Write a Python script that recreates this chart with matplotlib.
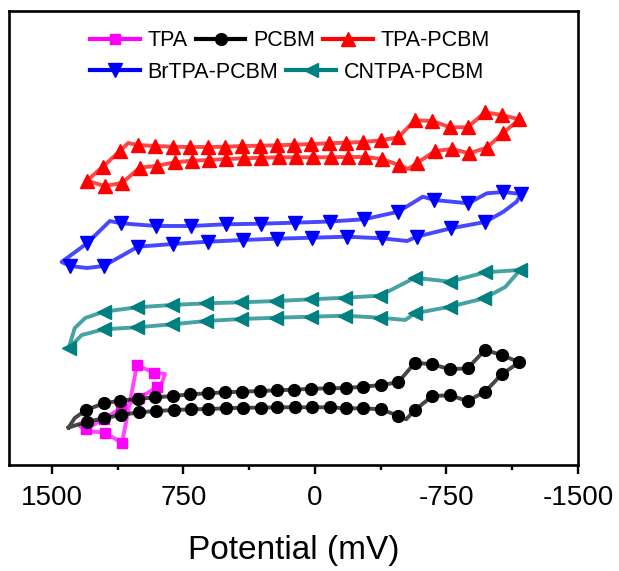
import matplotlib
matplotlib.use("Agg")
import matplotlib.pyplot as plt
from matplotlib.lines import Line2D

plt.rcParams['font.family'] = ['Liberation Sans', 'DejaVu Sans']

# cyclic voltammograms: potential (mV), current (a.u.)
# each list traces one closed loop; *_skip are points that carry no marker
tpa_E = [1015, 920, 855, 875, 900, 1005, 1105, 1205, 1305, 1340, 1300, 1200, 1100, 1015]
tpa_I = [10.0, 9.23, 9.1, 8.1, 7.77, 6.7, 5.65, 4.65, 3.57, 3.9, 3.4, 3.23, 2.23, 10.0]
tpa_skip = [2, 3, 9, 10, 13]

pcbm_E = [1405, 1300, 1205, 1105, 1005, 905, 805, 705, 610, 510, 410, 310, 215, 115, 15,
          -85, -175, -275, -375, -475, -520, -570, -670, -770, -870, -970, -1065, -1165,
          -1065, -970, -870, -770, -670, -570, -475, -375, -275, -175, -80, 20, 120, 215,
          315, 415, 515, 610, 710, 810, 910, 1010, 1110, 1205, 1305, 1370, 1405]
pcbm_I = [3.75, 4.33, 4.67, 5.0, 5.27, 5.4, 5.5, 5.57, 5.6, 5.67, 5.73, 5.73, 5.77, 5.77, 5.77,
          5.77, 5.67, 5.67, 5.57, 4.93, 4.57, 5.5, 6.9, 6.97, 6.4, 7.33, 9.07, 10.27,
          11.0, 11.5, 9.67, 9.57, 10.07, 10.23, 8.27, 8.0, 7.83, 7.7, 7.67, 7.63, 7.53, 7.47,
          7.4, 7.33, 7.27, 7.17, 7.07, 6.9, 6.77, 6.6, 6.43, 6.17, 5.5, 4.7, 3.75]
pcbm_skip = [0, 20, 53, 54]

tpapcbm_E = [1300, 1200, 1100, 1000, 900, 800, 700, 605, 505, 405, 310, 205, 110, 10, -90,
             -190, -285, -380, -480, -530, -580, -685, -780, -880, -980, -1075, -1165,
             -1065, -970, -870, -770, -670, -570, -475, -375, -275, -175, -80, 20, 120, 215,
             315, 415, 515, 610, 715, 810, 910, 1010, 1065, 1110, 1210, 1300]
tpapcbm_I = [28.43, 27.9, 28.2, 29.73, 29.93, 30.27, 30.43, 30.5, 30.6, 30.67, 30.73, 30.77,
             30.77, 30.77, 30.78, 30.8, 30.8, 30.6, 30.0, 29.6, 30.17, 31.4, 31.6, 31.17,
             31.73, 33.23, 34.57, 35.0, 35.27, 33.77, 33.77, 34.4, 34.47, 32.77, 32.47, 32.3,
             32.23, 32.17, 32.1, 32.03, 31.97, 31.93, 31.9, 31.83, 31.8, 31.8, 31.83, 31.9,
             32.0, 32.2, 31.43, 29.83, 28.43]
tpapcbm_skip = [19, 49, 52]

brtpa_E = [1395, 1300, 1205, 1010, 810, 610, 410, 215, 15, -185, -380, -525, -580, -775,
           -970, -1075, -1150, -1175, -1075, -980, -875, -680, -615, -475, -280, -85, 115,
           310, 510, 705, 905, 1105, 1170, 1300, 1445, 1395]
brtpa_I = [19.9, 19.7, 19.9, 21.83, 22.1, 22.33, 22.5, 22.63, 22.73, 22.83, 22.67, 22.4,
           22.83, 23.67, 24.3, 25.33, 26.33, 27.1, 27.3, 27.17, 26.17, 26.5, 26.83, 25.33,
           24.57, 24.35, 24.23, 24.13, 24.07, 23.9, 23.9, 24.17, 24.4, 22.17, 20.3, 19.9]
brtpa_skip = [1, 11, 15, 16, 19, 22, 32, 34, 35]

cntpa_E = [1405, 1330, 1205, 1015, 815, 620, 420, 220, 20, -170, -370, -515, -570, -770,
           -965, -1085, -1170, -970, -770, -570, -370, -170, 20, 220, 420, 620, 815, 1015,
           1205, 1310, 1370, 1405]
cntpa_I = [11.67, 13.0, 13.57, 13.77, 14.07, 14.4, 14.6, 14.73, 14.83, 14.93, 14.73, 14.5,
           15.17, 15.83, 16.67, 17.8, 19.5, 19.27, 18.33, 18.73, 16.93, 16.73, 16.57, 16.4,
           16.27, 16.17, 16.0, 15.77, 15.33, 14.7, 13.7, 11.67]
cntpa_skip = [1, 11, 15, 29, 30, 31]

series = [
    ("TPA", tpa_E, tpa_I, tpa_skip, "#ff00ff", "s", 7),
    ("PCBM", pcbm_E, pcbm_I, pcbm_skip, "#000000", "o", 8.5),
    ("TPA-PCBM", tpapcbm_E, tpapcbm_I, tpapcbm_skip, "#ff0000", "^", 10),
    ("BrTPA-PCBM", brtpa_E, brtpa_I, brtpa_skip, "#0000ff", "v", 10),
    ("CNTPA-PCBM", cntpa_E, cntpa_I, cntpa_skip, "#008080", "<", 10),
]

fig = plt.figure(figsize=(6.19, 5.71), dpi=100)
ax = fig.add_axes([9 / 619, 1 - 465 / 571, 569 / 619, 454 / 571])

handles = {}
for name, E, I, skip, col, mk, ms in series:
    ax.plot(E, I, color=col, lw=2.8, alpha=0.72, solid_joinstyle='round')
    keep = [i for i in range(len(E)) if i not in skip]
    ax.plot([E[i] for i in keep], [I[i] for i in keep], ls='none', marker=mk,
            ms=ms, color=col, mec=col)
    handles[name] = Line2D([], [], color=col, lw=3, marker=mk, ms=ms, mec=col)

ax.set_xlim(1745, -1500)
ax.set_ylim(0, 45.4)
ax.set_xticks([1500, 750, 0, -750, -1500])
ax.set_xticklabels(["1500", "750", "0", "-750", "-1500"])
ax.set_xticks([1125, 375, -375, -1125], minor=True)
ax.set_yticks([])
ax.tick_params(axis='x', which='major', direction='out', length=6.5, width=1.7,
               labelsize=20, pad=8)
ax.tick_params(axis='x', which='minor', direction='out', length=3.5, width=1.7)
for s in ax.spines.values():
    s.set_linewidth(1.9)
ax.set_xlabel("Potential (mV)", fontsize=24, labelpad=17)

leg_kw = dict(frameon=False, fontsize=15.5, handlelength=2.3, handletextpad=0.35,
              columnspacing=0.4, borderpad=0, borderaxespad=0, loc='center left')
row1 = ["TPA", "PCBM", "TPA-PCBM"]
row2 = ["BrTPA-PCBM", "CNTPA-PCBM"]
leg1 = fig.legend([handles[n] for n in row1], row1, ncol=3,
                  bbox_to_anchor=(90 / 619, 1 - 41 / 571), **leg_kw)
leg2 = fig.legend([handles[n] for n in row2], row2, ncol=2,
                  bbox_to_anchor=(90 / 619, 1 - 72 / 571), **leg_kw)

fig.savefig("out.png", dpi=100)
